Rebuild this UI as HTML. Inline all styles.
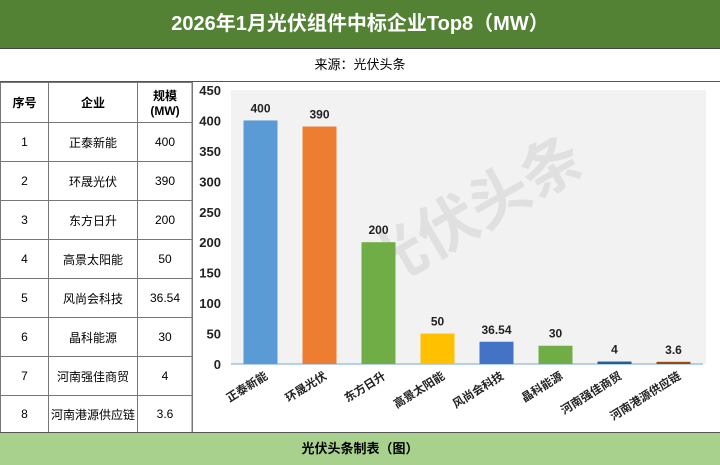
<!DOCTYPE html>
<html><head><meta charset="utf-8"><style>
body{margin:0;width:720px;height:464px;overflow:hidden;background:#fff;font-family:"Liberation Sans","Noto Sans CJK SC",sans-serif;}
#title{position:absolute;left:0;top:0;width:720px;height:48px;background:#548235;color:#fff;font-weight:bold;font-size:20px;line-height:48px;text-align:center;border-bottom:1px solid #444;}
#sub{position:absolute;left:0;top:48px;width:720px;height:33px;line-height:33px;text-align:center;font-size:13px;border-bottom:1px solid #555;}
table{position:absolute;left:0;top:82px;border-collapse:collapse;font-size:12px;}
td{border:1px solid #777;text-align:center;padding:0;}
#foot{position:absolute;left:0;top:432px;width:720px;height:32px;background:#a9d18e;border-top:1px solid #555;font-weight:bold;font-size:13px;line-height:32px;text-align:center;}
</style></head><body>
<div id="title">2026年1月光伏组件中标企业Top8（MW）</div>
<div id="sub">来源：光伏头条</div>
<table>
<tr style="height:40px;font-weight:bold"><td style="width:47px">序号</td><td style="width:88px">企业</td><td style="width:54px">规模<br>(MW)</td></tr>
<tr style="height:39px"><td>1</td><td>正泰新能</td><td>400</td></tr>
<tr style="height:39px"><td>2</td><td>环晟光伏</td><td>390</td></tr>
<tr style="height:39px"><td>3</td><td>东方日升</td><td>200</td></tr>
<tr style="height:39px"><td>4</td><td>高景太阳能</td><td>50</td></tr>
<tr style="height:39px"><td>5</td><td>风尚会科技</td><td>36.54</td></tr>
<tr style="height:39px"><td>6</td><td>晶科能源</td><td>30</td></tr>
<tr style="height:39px"><td>7</td><td>河南强佳商贸</td><td>4</td></tr>
<tr style="height:37px"><td>8</td><td>河南港源供应链</td><td>3.6</td></tr>
</table>
<svg id="chart" width="720" height="464" style="position:absolute;left:0;top:0">
<line x1="192" y1="82" x2="192" y2="432" stroke="#777"/>
<rect x="231" y="90" width="475" height="274" fill="#f2f2f2"/>
<text x="380" y="290" font-size="60" fill="#e0e0e0" font-weight="bold" transform="rotate(-30 380 290)">光伏头条</text>
<g id="g"></g>
</svg>
<div id="foot">光伏头条制表（图）</div>
<script>
const categories=["正泰新能","环晟光伏","东方日升","高景太阳能","风尚会科技","晶科能源","河南强佳商贸","河南港源供应链"];
const values=[400,390,200,50,36.54,30,4,3.6];
const labels=["400","390","200","50","36.54","30","4","3.6"];
const ticks=[0,50,100,150,200,250,300,350,400,450];
const colors=["#5b9bd5","#ed7d31","#70ad47","#ffc000","#4472c4","#70ad47","#255e91","#9e480e"];
const NS="http://www.w3.org/2000/svg",g=document.getElementById('g');
const y0=364,y1=90,vmax=450,x0=231,cw=59;
const yS=v=>y0-(v/vmax)*(y0-y1);
function mk(t,a){const e=document.createElementNS(NS,t);for(const k in a)e.setAttribute(k,a[k]);g.appendChild(e);return e;}
ticks.forEach(t=>{const e=mk('text',{x:221,y:yS(t)+5,'text-anchor':'end','font-size':13,'font-weight':'bold',fill:'#222'});e.textContent=t;

});
const ax=mk('line',{x1:x0,x2:x0+cw*8,y1:y0,y2:y0,stroke:'#9dc3e6','stroke-width':1.5});


values.forEach((v,i)=>{const cx=x0+cw*(i+0.5);
const r=mk('rect',{x:cx-17,y:yS(v),width:34,height:y0-yS(v),fill:colors[i]});


const t=mk('text',{x:cx,y:yS(v)-8,'text-anchor':'middle','font-size':12,'font-weight':'bold',fill:'#222'});t.textContent=labels[i];


const c=mk('text',{x:cx+8,y:y0+14,'text-anchor':'end','font-size':11.5,'font-weight':'bold',fill:'#222',transform:`rotate(-32 ${cx+8} ${y0+14})`});c.textContent=categories[i];

});
</script>
</body></html>
